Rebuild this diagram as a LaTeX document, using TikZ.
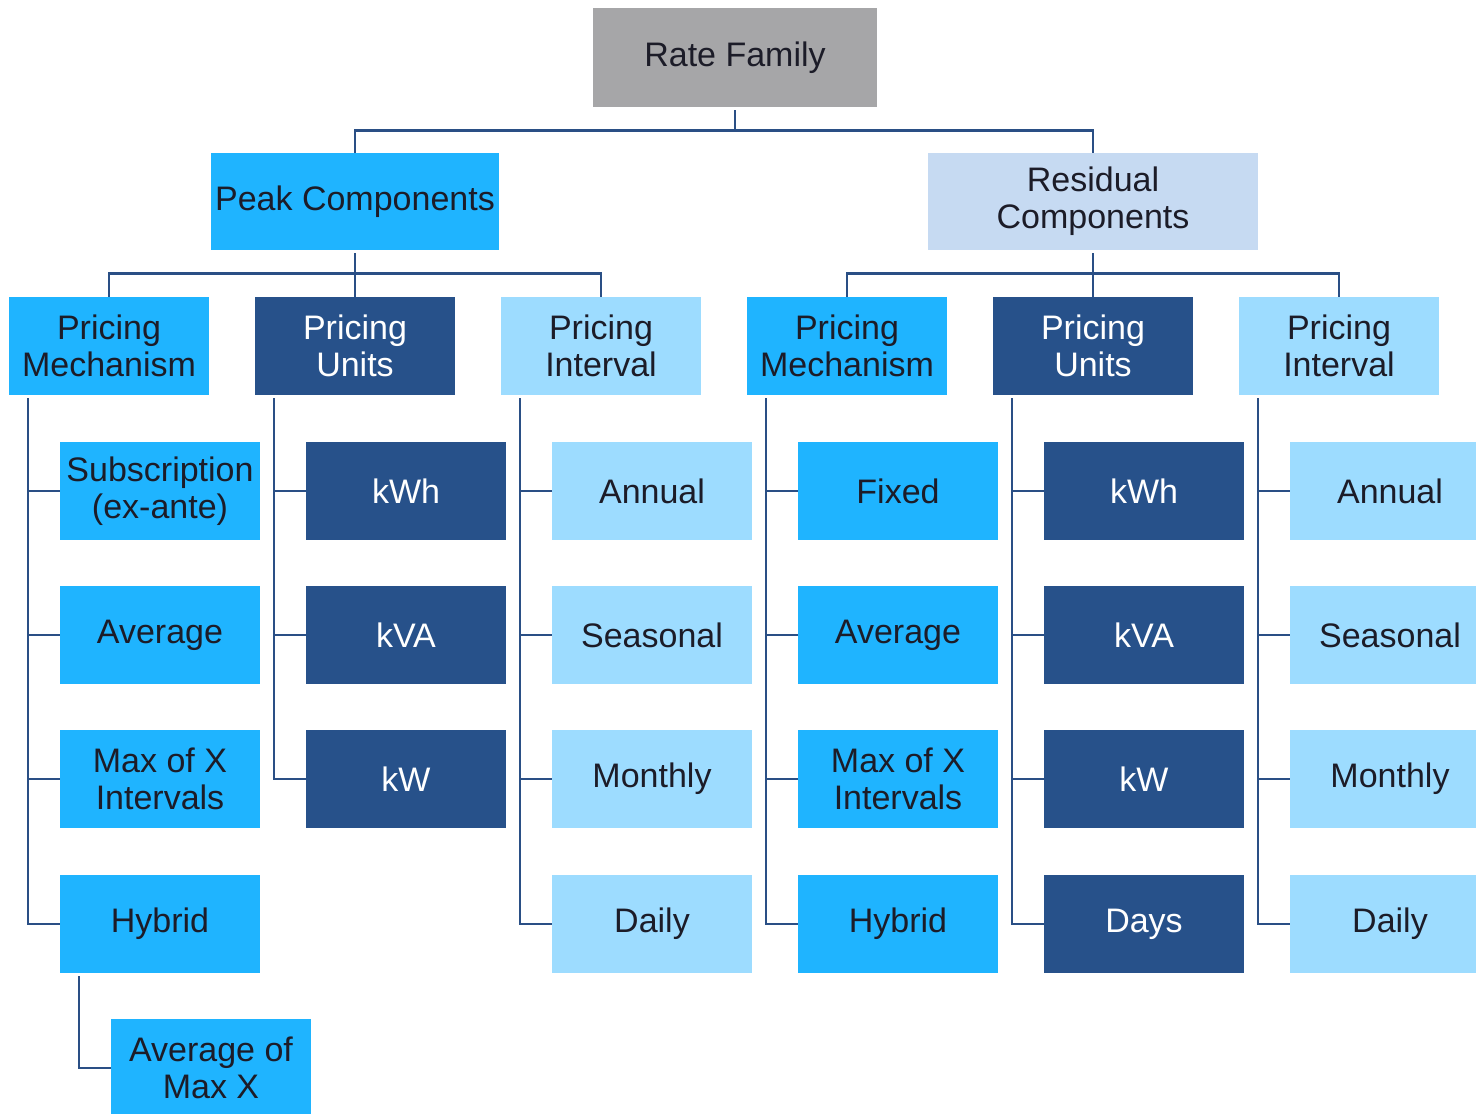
\documentclass[tikz,border=0pt]{standalone}
\usepackage{fontspec}
\setmainfont{Liberation Sans}
\usetikzlibrary{positioning}
\definecolor{rategray}{HTML}{A6A6A8}
\definecolor{mechblue}{HTML}{1FB4FF}
\definecolor{unitnavy}{HTML}{27518A}
\definecolor{intsky}{HTML}{9DDCFF}
\definecolor{residpale}{HTML}{C6DAF2}
\definecolor{linkblue}{HTML}{2A4F85}
\definecolor{inkdark}{HTML}{1C1C28}

\tikzset{
  box/.style={minimum width=200pt, minimum height=98pt, inner sep=0pt, align=center,
              font=\fontsize{34}{37}\selectfont, text=inkdark},
  mechbox/.style={box, fill=mechblue},
  unitbox/.style={box, fill=unitnavy, text=white},
  intbox/.style={box, fill=intsky},
  link/.style={draw=linkblue, line width=2.6pt},
}

\begin{document}
\begin{tikzpicture}[x=1pt, y=-1pt]
\useasboundingbox (0,0) rectangle (1476,1114);

% top levels
\node[box, fill=rategray, minimum width=284pt, minimum height=99pt] (rate) at (735,57.5) {Rate Family};
\node[mechbox, minimum width=288pt, minimum height=97pt] (peak) at (355,201.5) {Peak Components};
\node[box, fill=residpale, minimum width=330pt, minimum height=97pt] (resid) at (1093,201.5) {Residual\\Components};

% second level
\node[mechbox] (pkmech) at (109,346) {Pricing\\Mechanism};
\node[unitbox] (pkunit) at (355,346) {Pricing\\Units};
\node[intbox]  (pkint)  at (601,346) {Pricing\\Interval};
\node[mechbox] (rsmech) at (847,346) {Pricing\\Mechanism};
\node[unitbox] (rsunit) at (1093,346) {Pricing\\Units};
\node[intbox]  (rsint)  at (1339,346) {Pricing\\Interval};

% peak children
\node[mechbox] (pkmech1) at (160,491) {Subscription\\(ex-ante)};
\node[mechbox] (pkmech2) at (160,635) {Average};
\node[mechbox] (pkmech3) at (160,779) {Max of X\\Intervals};
\node[mechbox] (pkmech4) at (160,924) {Hybrid};
\node[mechbox] (pkavg)   at (211,1068) {Average of\\Max X};

\node[unitbox] (pkunit1) at (406,491) {kWh};
\node[unitbox] (pkunit2) at (406,635) {kVA};
\node[unitbox] (pkunit3) at (406,779) {kW};

\node[intbox] (pkint1) at (652,491) {Annual};
\node[intbox] (pkint2) at (652,635) {Seasonal};
\node[intbox] (pkint3) at (652,779) {Monthly};
\node[intbox] (pkint4) at (652,924) {Daily};

% residual children
\node[mechbox] (rsmech1) at (898,491) {Fixed};
\node[mechbox] (rsmech2) at (898,635) {Average};
\node[mechbox] (rsmech3) at (898,779) {Max of X\\Intervals};
\node[mechbox] (rsmech4) at (898,924) {Hybrid};

\node[unitbox] (rsunit1) at (1144,491) {kWh};
\node[unitbox] (rsunit2) at (1144,635) {kVA};
\node[unitbox] (rsunit3) at (1144,779) {kW};
\node[unitbox] (rsunit4) at (1144,924) {Days};

\node[intbox] (rsint1) at (1390,491) {Annual};
\node[intbox] (rsint2) at (1390,635) {Seasonal};
\node[intbox] (rsint3) at (1390,779) {Monthly};
\node[intbox] (rsint4) at (1390,924) {Daily};

% tree connectors
\draw[link] ([yshift=-3pt]rate.south) -- ++(0,20) -| (peak.north);
\draw[link] ([yshift=-3pt]rate.south) -- ++(0,20) -| (resid.north);
\foreach \c in {pkmech, pkunit, pkint}
  \draw[link] ([yshift=-3pt]peak.south) -- ++(0,20) -| (\c.north);
\foreach \c in {rsmech, rsunit, rsint}
  \draw[link] ([yshift=-3pt]resid.south) -- ++(0,20) -| (\c.north);

% spines down to the children
\foreach \c in {pkmech, pkint, rsmech, rsunit, rsint}
  \foreach \i in {1,...,4}
    \draw[link] ([xshift=19pt, yshift=-3pt]\c.south west) |- (\c\i.west);
\foreach \i in {1,...,3}
  \draw[link] ([xshift=19pt, yshift=-3pt]pkunit.south west) |- (pkunit\i.west);
\draw[link] ([xshift=19pt, yshift=-3pt]pkmech4.south west) |- (pkavg.west);
\end{tikzpicture}
\end{document}
